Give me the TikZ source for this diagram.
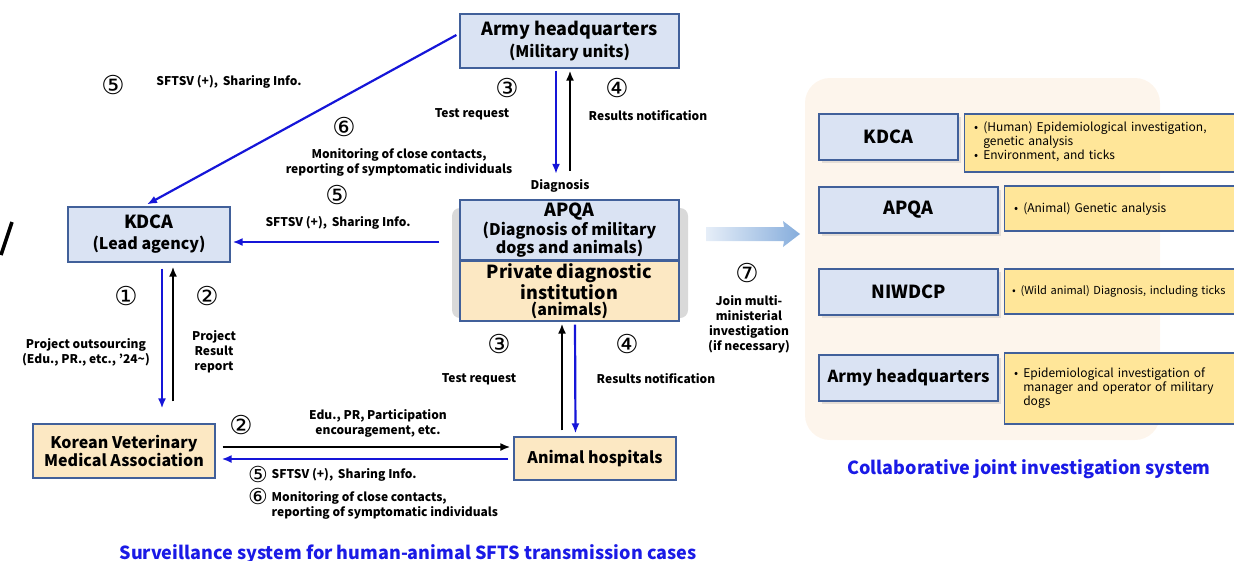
\documentclass[tikz,border=0pt]{standalone}
\usepackage{fontspec}
\setmainfont{Noto Sans CJK KR}
\newfontfamily\numfont{DejaVu Sans}
\usepackage{tikz}
\usetikzlibrary{shapes,arrows,positioning,calc,shadows,arrows.meta}

\definecolor{boxblue}{HTML}{DAE3F3}
\definecolor{boxline}{HTML}{41609A}
\definecolor{boxyellow}{HTML}{FCE8C3}
\definecolor{noteyellow}{HTML}{FFE699}
\definecolor{arrblue}{HTML}{1515D8}
\definecolor{titleblue}{HTML}{1A1AE6}
\definecolor{panelbg}{HTML}{FDF5EC}
\definecolor{arrlight}{HTML}{E6EEF8}
\definecolor{arrdark}{HTML}{86ADDC}

\newcommand{\fsz}[1]{\fontsize{#1}{#1}\selectfont}

\tikzset{
  agency/.style={draw=boxline, line width=1.2pt, fill=boxblue, align=center, font=\bfseries\fontsize{16}{16}\selectfont, inner sep=1pt},
  partner/.style={agency, fill=boxyellow},
  note/.style={draw=boxline, line width=1.2pt, fill=noteyellow, anchor=north west, align=left,
    font=\fontsize{12}{14}\selectfont, inner xsep=10pt, text width=262pt},
  lbl/.style={font=\bfseries\fontsize{12}{15}\selectfont, align=center, inner sep=0.5pt},
  num/.style={font=\numfont\fsz{26}, inner sep=0pt, text height=16pt, text depth=2pt},
  smallnum/.style={num, font=\numfont\fsz{22}, text height=14pt, text depth=1pt},
  bluearr/.style={draw=arrblue, line width=2.2pt, -{Latex[length=10pt,width=8pt]}},
  blackarr/.style={draw=black, line width=2.2pt, -{Latex[length=10pt,width=8pt]}},
}

\begin{document}
\begin{tikzpicture}[x=1pt, y=-1pt]
    \useasboundingbox (0,0) rectangle (1234,560);
    \clip (0,0) rectangle (1234,560);

    % stray mark at left edge
    \draw[line width=3.5pt] (1,255) -- (12,222);

    % surveillance system
    \fill[black!15, rounded corners=8pt] (452,208) rectangle (688,318);
    \node[agency, minimum width=219, minimum height=54] (army) at (569.5,41)
        {{\fsz{18}Army headquarters}\\[4pt](Military units)};
    \node[agency, minimum width=219, minimum height=60, font=\bfseries\fontsize{16}{15}\selectfont] (apqa) at (569.5,230)
        {{\fsz{18}APQA}\\[1pt](Diagnosis of military\\dogs and animals)};
    \node[partner, minimum width=219, minimum height=60] (priv) at (569.5,291)
        {{\fsz{18}Private diagnostic}\\[1pt]{\fsz{18}institution}\\(animals)};
    \node[agency, minimum width=162, minimum height=55] (kdca) at (149,234.5)
        {{\fsz{18}KDCA}\\[5pt](Lead agency)};
    \node[partner, minimum width=182, minimum height=54] (kvma) at (124,451)
        {Korean Veterinary\\Medical Association};
    \node[partner, minimum width=162, minimum height=43] (hosp) at (595,458.5)
        {Animal hospitals};

    \node[lbl] (diag) at (560,186) {Diagnosis};

    % Army headquarters <-> APQA
    \node[num] (n3a) at (507,90) {③};
    \node[lbl] (treqa) at (472,114) {Test request};
    \node[num] (n4a) at (617,90) {④};
    \node[lbl] (resa) at (648,116) {Results notification};
    \draw[bluearr] ($(army.south)+(-13.5,2)$) -- ($(army.south |- diag.north)+(-13.5,-5)$);
    \draw[blackarr] ($(army.south |- diag.north)+(0.5,-8)$) -- ($(army.south)+(0.5,2)$);

    % Army headquarters -> KDCA
    \node[num] (n5a) at (113,87) {⑤};
    \node[lbl] (sfa) at (229,82) {SFTSV (+),\, Sharing Info.};
    \node[num] (n6a) at (344,129) {⑥};
    \node[lbl] (mona) at (399,162) {Monitoring of close contacts,\\reporting of symptomatic individuals};
    \draw[bluearr] ($(army.west)+(-3,-6)$) -- ($(kdca.north)+(-2,-2)$);

    % APQA -> KDCA
    \node[num] (n5b) at (337,197) {⑤};
    \node[lbl] (sfb) at (338,223) {SFTSV (+),\, Sharing Info.};
    \draw[bluearr] ($(apqa.west)+(-20,12)$) -- ($(kdca.east)+(2,7.5)$);

    % KDCA <-> Korean Veterinary Medical Association
    \node[num] (n1) at (126,298) {①};
    \node[num] (n2a) at (207,298) {②};
    \node[lbl] (outs) at (86,352) {Project outsourcing\\(Edu., PR., etc., ’24\textasciitilde)};
    \node[lbl] (rep) at (214,352) {Project\\Result\\report};
    \draw[bluearr] ($(kdca.south)+(13,6)$) -- ($(kdca.south |- kvma.north)+(13,-15)$);
    \draw[blackarr] ($(kdca.south |- kvma.north)+(24,-22)$) -- ($(kdca.south)+(24,4)$);

    % private institution <-> animal hospitals
    \node[num] (n3b) at (499,346) {③};
    \node[lbl] (treqb) at (479,379) {Test request};
    \node[num] (n4b) at (627,346) {④};
    \node[lbl] (resb) at (656,379) {Results notification};
    \draw[blackarr] ($(hosp.north)+(-33,-6)$) -- ($(priv.south)+(-7.5,2)$);
    \draw[bluearr] ($(priv.south)+(5.5,3)$) -- ($(hosp.north)+(-19.5,-3)$);

    % Korean Veterinary Medical Association <-> animal hospitals
    \node[num] (n2b) at (241,427) {②};
    \node[lbl] (edu) at (378,423) {Edu., PR, Participation\\encouragement, etc.};
    \draw[blackarr] ($(kvma.east)+(7,-4)$) -- ($(hosp.west)+(-3,-11.5)$);
    \draw[bluearr] ($(hosp.west)+(-5,0.5)$) -- ($(kvma.east)+(6,8)$);
    \node[smallnum] (n5c) at (258,476) {⑤};
    \node[lbl, anchor=west] (sfc) at (271,475) {SFTSV (+),\, Sharing Info.};
    \node[smallnum] (n6c) at (258,498) {⑥};
    \node[lbl, anchor=west, align=left] (monc) at (271,505) {Monitoring of close contacts,\\reporting of symptomatic individuals};

    \node[font=\bfseries\fsz{18}, text=titleblue] (title1) at (408,554)
        {Surveillance system for human-animal SFTS transmission cases};

    % joint investigation
    \shade[left color=arrlight, right color=arrdark]
        (706,227) -- (784,227) -- (783,221) -- (800,234) -- (783,247) -- (784,241) -- (706,241) -- cycle;
    \node[num] (n7) at (747,275) {⑦};
    \node[lbl] (join) at (749,324) {Join multi-\\ministerial\\investigation\\(if necessary)};

    \fill[panelbg, rounded corners=25pt] (805,78) rectangle (1160,440);

    \node[agency, minimum width=139, minimum height=46, drop shadow={opacity=0.2}] (rkdca) at (888.5,137) {\fsz{18}KDCA};
    \node[agency, minimum width=179, minimum height=46, drop shadow={opacity=0.2}] (rapqa) at (908.5,210) {\fsz{18}APQA};
    \node[agency, minimum width=179, minimum height=46, drop shadow={opacity=0.2}] (rniw) at (908.5,292) {\fsz{18}NIWDCP};
    \node[agency, minimum width=179, minimum height=46, drop shadow={opacity=0.2}] (rarmy) at (908.5,378) {\fsz{16.5}Army headquarters};

    \node[note, minimum height=58] (nkdca) at ($(rkdca.north east)+(5,0)$)
        {\begin{tabular}{@{}l@{\hspace{5pt}}l@{}}
         • & (Human) Epidemiological investigation,\\
           & genetic analysis\\
         • & Environment, and ticks
         \end{tabular}};
    \node[note, minimum height=45] (napqa) at ($(rapqa.north east)+(5,-1)$)
        {• \hspace{1pt}(Animal) Genetic analysis};
    \node[note, minimum height=45, font=\fontsize{11}{14}\selectfont, inner xsep=8pt] (nniw) at ($(rniw.north east)+(5,0)$)
        {• \hspace{1pt}(Wild animal) Diagnosis, including ticks};
    \node[note, minimum height=71] (narmy) at ($(rarmy.north east)+(5,-2)$)
        {\begin{tabular}{@{}l@{\hspace{5pt}}l@{}}
         • & Epidemiological investigation of\\
           & manager and operator of military\\
           & dogs
         \end{tabular}};

    \node[font=\bfseries\fsz{18}, text=titleblue] (title2) at (1029,469)
        {Collaborative joint investigation system};
\end{tikzpicture}
\end{document}
